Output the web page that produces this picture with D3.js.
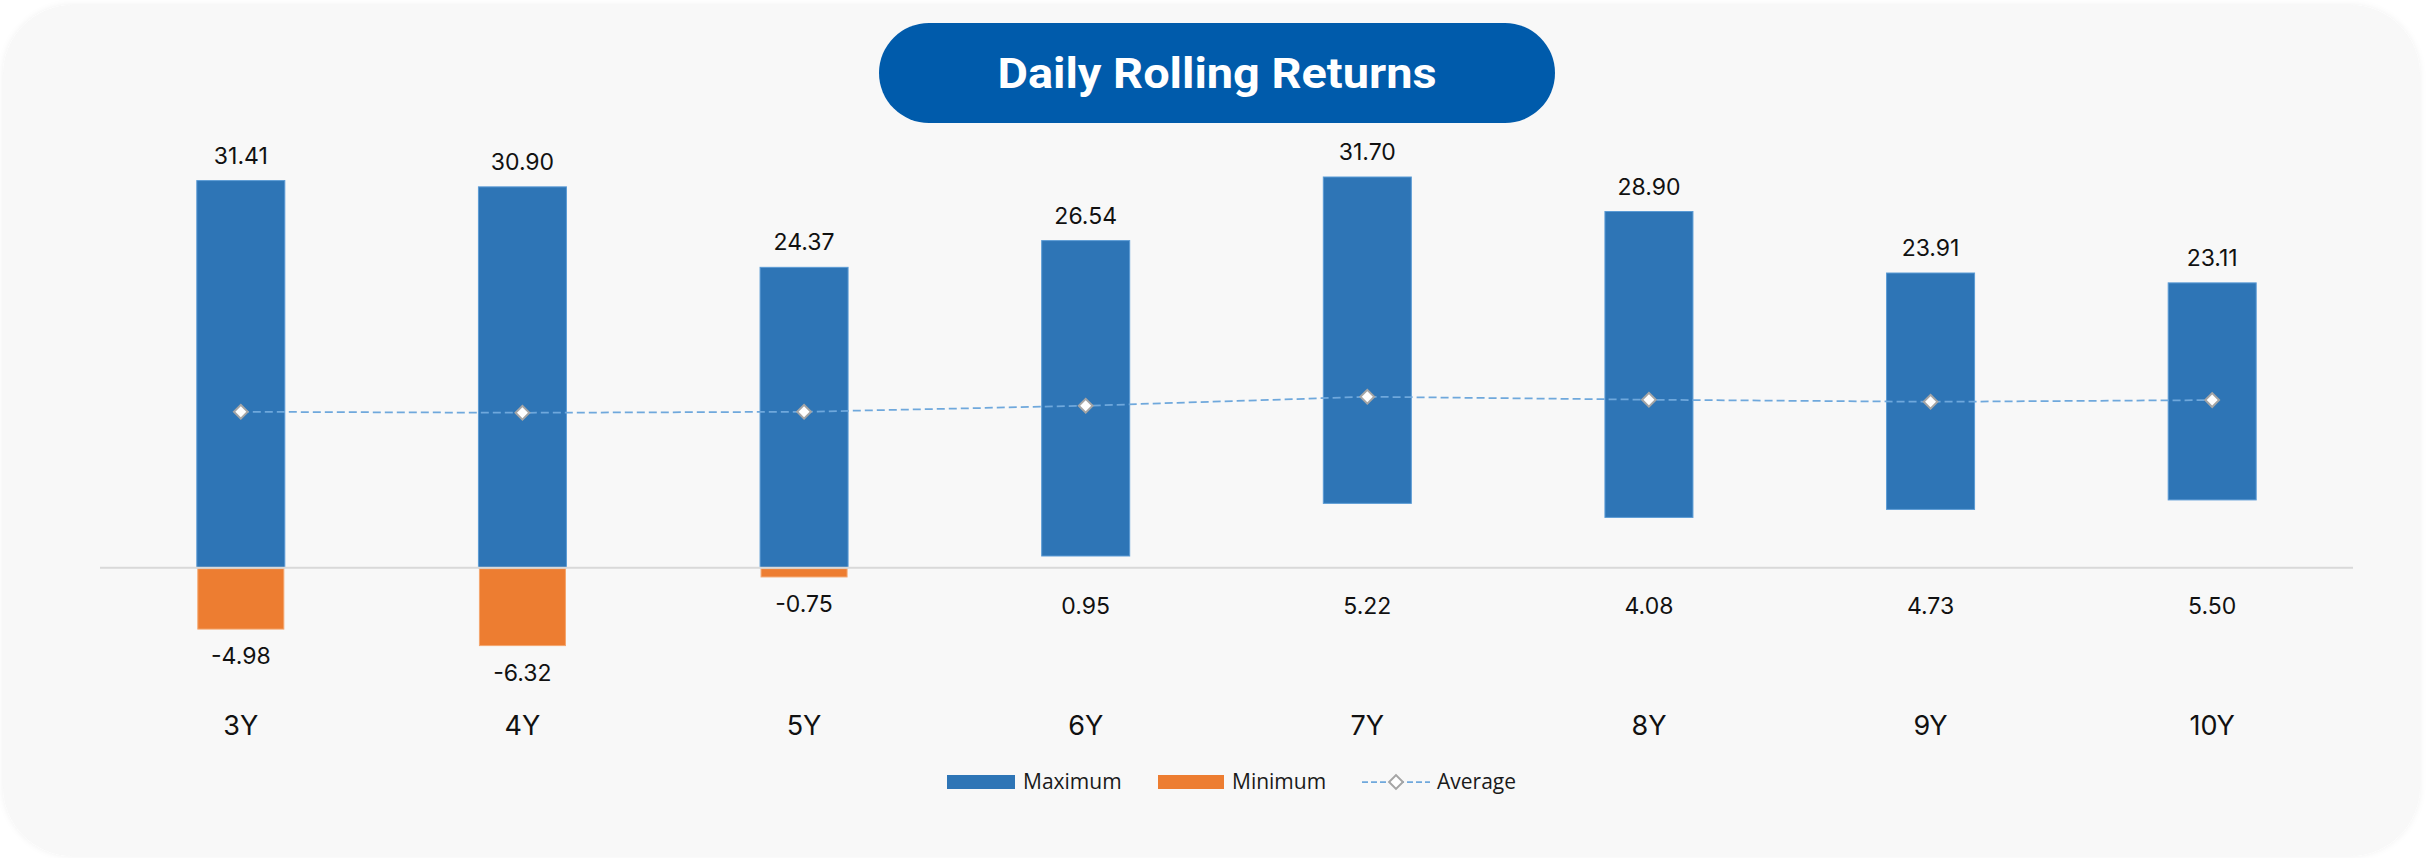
<!DOCTYPE html>
<html>
<head>
<meta charset="utf-8">
<script src="https://cdn.jsdelivr.net/npm/d3@7"></script>
<style>
  html, body { margin: 0; padding: 0; background: #ffffff; }
  svg { display: block; }
</style>
</head>
<body>
<div id="chart"></div>
<script>
// Rolling return periods and values
const periods = ['3Y', '4Y', '5Y', '6Y', '7Y', '8Y', '9Y', '10Y'];
const maxReturns = [31.41, 30.90, 24.37, 26.54, 31.70, 28.90, 23.91, 23.11];
const minReturns = [-4.98, -6.32, -0.75, 0.95, 5.22, 4.08, 4.73, 5.50];
const avgReturns = [12.65, 12.57, 12.65, 13.14, 13.87, 13.63, 13.46, 13.60];
const legendLabels = ['Maximum', 'Minimum', 'Average'];
const chartTitle = 'Daily Rolling Returns';

const width = 2433, height = 858;
const blue = '#2e75b6', orange = '#ed7d31', avgColor = '#6fa8dc';

const svg = d3.select('#chart').append('svg')
  .attr('width', width).attr('height', height);

// soft shadow for the card
const defs = svg.append('defs');
defs.append('filter').attr('id', 'shadow')
  .attr('x', '-5%').attr('y', '-5%').attr('width', '110%').attr('height', '110%')
  .append('feDropShadow')
    .attr('dx', 0).attr('dy', 0).attr('stdDeviation', 3)
    .attr('flood-color', '#000').attr('flood-opacity', 0.06);

// card background
svg.append('rect')
  .attr('x', 3).attr('y', 5).attr('width', 2417).attr('height', 851)
  .attr('rx', 70).attr('fill', '#f8f8f8')
  .attr('filter', 'url(#shadow)');

// title pill
const titleG = svg.append('g');
titleG.append('rect')
  .attr('x', 879).attr('y', 23).attr('width', 676).attr('height', 100)
  .attr('rx', 50).attr('fill', '#005bab');
titleG.append('text')
  .attr('x', 1217).attr('y', 88)
  .attr('text-anchor', 'middle')
  .attr('font-family', 'Roboto, sans-serif')
  .attr('font-weight', 700)
  .attr('font-size', 42)
  .attr('fill', '#ffffff')
  .attr('textLength', 439)
  .attr('lengthAdjust', 'spacingAndGlyphs')
  .text(chartTitle);

// scales
const x = d3.scaleBand()
  .domain(periods)
  .range([100, 2353])
  .paddingInner(0.6875)
  .paddingOuter(0.34375);

const y = d3.scaleLinear()
  .domain([-10, 35])
  .range([690.95, 136.33]);

const data = periods.map((p, i) => ({
  period: p, max: maxReturns[i], min: minReturns[i], avg: avgReturns[i]
}));

// maximum bars (floating when minimum is positive)
svg.append('g')
  .selectAll('rect')
  .data(data)
  .join('rect')
    .attr('x', d => x(d.period))
    .attr('width', x.bandwidth())
    .attr('y', d => y(d.max))
    .attr('height', d => y(Math.max(d.min, 0)) - y(d.max))
    .attr('fill', blue)
    .attr('stroke', '#5b9bd5')
    .attr('stroke-width', 1);

// minimum bars (only negative ones are visible)
svg.append('g')
  .selectAll('rect')
  .data(data.filter(d => d.min < 0))
  .join('rect')
    .attr('x', d => x(d.period) + 1)
    .attr('width', x.bandwidth() - 2)
    .attr('y', y(0) + 1)
    .attr('height', d => y(d.min) - y(0) - 1)
    .attr('fill', orange)
    .attr('stroke', '#f4a66e')
    .attr('stroke-width', 1);

// zero baseline
svg.append('line')
  .attr('x1', 100).attr('x2', 2353)
  .attr('y1', y(0)).attr('y2', y(0))
  .attr('stroke', '#d9d9d9').attr('stroke-width', 2);

// average line + diamonds
const cx = d => x(d.period) + x.bandwidth() / 2;
const line = d3.line().x(cx).y(d => y(d.avg));
svg.append('path')
  .datum(data)
  .attr('d', line)
  .attr('fill', 'none')
  .attr('stroke', avgColor)
  .attr('stroke-width', 1.75)
  .attr('stroke-dasharray', '8,4');

const diamond = d3.symbol(d3.symbolSquare, 95);
svg.append('g')
  .selectAll('path')
  .data(data)
  .join('path')
    .attr('d', diamond)
    .attr('transform', d => `translate(${cx(d)},${y(d.avg)}) rotate(45)`)
    .attr('fill', '#ffffff')
    .attr('stroke', '#a5a5a5')
    .attr('stroke-width', 2);

// value labels
const labelFont = 'Inter, "Noto Sans", sans-serif';
svg.append('g')
  .selectAll('text')
  .data(data)
  .join('text')
    .attr('x', cx)
    .attr('y', d => y(d.max) - 17)
    .attr('text-anchor', 'middle')
    .attr('font-family', labelFont)
    .attr('font-size', 23)
    .attr('fill', '#111')
    .text(d => d.max.toFixed(2));

svg.append('g')
  .selectAll('text')
  .data(data)
  .join('text')
    .attr('x', cx)
    .attr('y', d => d.min < 0 ? y(d.min) + 35 : y(0) + 46)
    .attr('text-anchor', 'middle')
    .attr('font-family', labelFont)
    .attr('font-size', 23)
    .attr('fill', '#111')
    .text(d => d.min.toFixed(2));

// category axis labels
svg.append('g')
  .selectAll('text')
  .data(periods)
  .join('text')
    .attr('x', d => x(d) + x.bandwidth() / 2)
    .attr('y', 735)
    .attr('text-anchor', 'middle')
    .attr('font-family', labelFont)
    .attr('font-size', 27)
    .attr('fill', '#111')
    .text(d => d);

// legend
const legend = svg.append('g').attr('font-family', '"Open Sans", sans-serif')
  .attr('font-size', 21).attr('fill', '#1a1a1a');
const legendX = [947, 1158, 1362];
const legendY = 782;

legend.append('rect')
  .attr('x', legendX[0]).attr('y', legendY - 7).attr('width', 68).attr('height', 14)
  .attr('fill', blue);
legend.append('rect')
  .attr('x', legendX[1]).attr('y', legendY - 7).attr('width', 66).attr('height', 14)
  .attr('fill', orange);
legend.append('line')
  .attr('x1', legendX[2]).attr('x2', legendX[2] + 68)
  .attr('y1', legendY).attr('y2', legendY)
  .attr('stroke', avgColor).attr('stroke-width', 1.75)
  .attr('stroke-dasharray', '6,3');
legend.append('path')
  .attr('d', diamond)
  .attr('transform', `translate(${legendX[2] + 34},${legendY}) rotate(45)`)
  .attr('fill', '#ffffff')
  .attr('stroke', '#a5a5a5')
  .attr('stroke-width', 2);

const textOffsets = [76, 74, 75];
legend.selectAll('text')
  .data(legendLabels)
  .join('text')
    .attr('x', (d, i) => legendX[i] + textOffsets[i])
    .attr('y', 789)
    .text(d => d);
</script>
</body>
</html>
